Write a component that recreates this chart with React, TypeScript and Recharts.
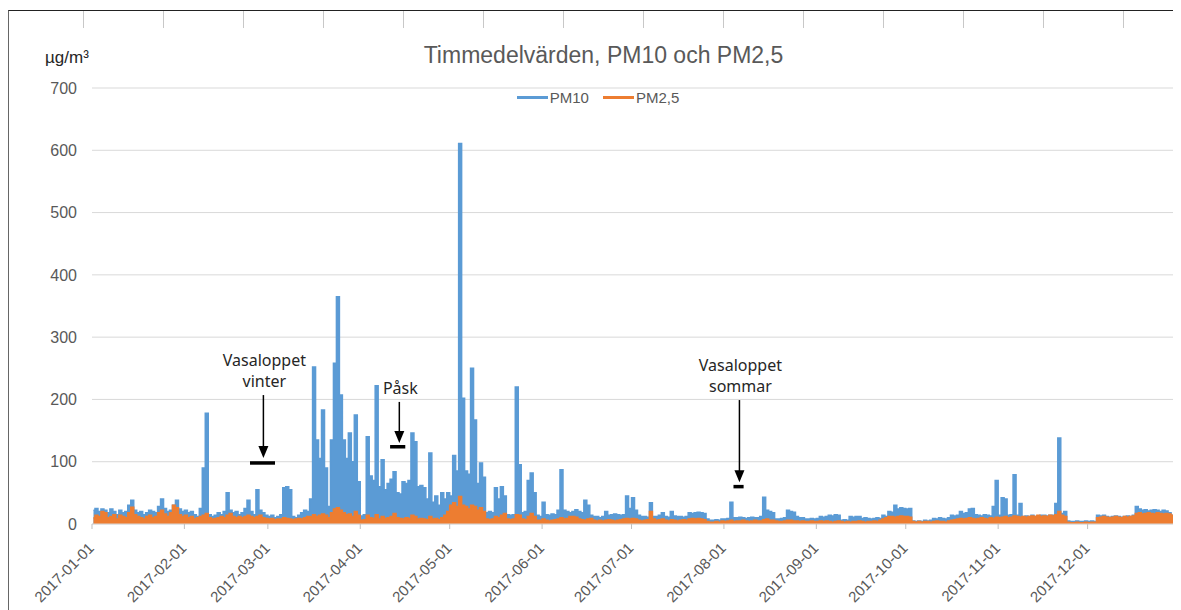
import React from 'react';
import { ComposedChart, Area, XAxis, YAxis, CartesianGrid, ReferenceLine } from 'recharts';

// day-of-year where each month starts, and the labels Excel printed
const monthTicks = [0, 31, 59, 90, 120, 151, 181, 212, 243, 273, 304, 334];
const monthLabels = [
  '2017-01-01', '2017-02-01', '2017-03-01', '2017-04-01', '2017-05-01', '2017-06-01',
  '2017-07-01', '2017-08-01', '2017-09-01', '2017-10-01', '2017-11-01', '2017-12-01',
];
const yTicks = [0, 100, 200, 300, 400, 500, 600, 700];

// PM10, one value per day, µg/m³
const pm10Jan = [22, 25, 20, 24, 22, 18, 24, 20, 15, 22, 18, 20, 30, 38, 22, 18, 20, 15, 18, 22, 20, 18, 28, 40, 25, 20, 22, 30, 38, 24, 20];
const pm10Feb = [22, 18, 20, 15, 12, 25, 90, 178, 15, 12, 14, 18, 15, 20, 50, 22, 18, 20, 15, 18, 25, 38, 20, 15, 55, 22, 18, 14];
const pm10Mar = [12, 14, 10, 12, 15, 58, 60, 55, 12, 10, 14, 18, 22, 20, 40, 252, 135, 105, 183, 90, 28, 135, 258, 365, 207, 135, 105, 146, 100, 175, 68];
const pm10Apr = [13, 15, 140, 77, 70, 222, 60, 103, 55, 65, 72, 84, 50, 48, 68, 65, 70, 146, 132, 60, 62, 58, 40, 114, 35, 45, 30, 50, 40, 50];
const pm10May = [45, 110, 85, 611, 202, 85, 80, 250, 167, 65, 98, 75, 18, 20, 18, 58, 40, 60, 45, 15, 14, 15, 220, 95, 18, 20, 70, 82, 50, 14, 12];
const pm10Jun = [35, 15, 14, 16, 15, 22, 87, 22, 20, 18, 20, 23, 20, 18, 38, 30, 14, 12, 12, 10, 12, 20, 14, 15, 16, 15, 14, 15, 45, 25];
const pm10Jul = [42, 22, 14, 12, 12, 11, 34, 12, 12, 14, 18, 12, 11, 20, 13, 12, 12, 11, 12, 18, 17, 18, 19, 18, 17, 8, 6, 6, 7, 6, 8];
const pm10Aug = [8, 9, 35, 10, 10, 11, 10, 9, 10, 11, 10, 10, 12, 43, 22, 20, 18, 8, 8, 9, 10, 22, 20, 19, 12, 10, 10, 8, 8, 9, 8];
const pm10Sep = [9, 12, 11, 12, 14, 13, 15, 14, 6, 7, 6, 12, 11, 12, 12, 9, 10, 9, 8, 9, 10, 9, 14, 12, 20, 19, 30, 24, 26, 25];
const pm10Oct = [24, 25, 5, 4, 5, 4, 6, 5, 6, 9, 8, 10, 9, 8, 10, 14, 13, 14, 20, 17, 18, 24, 25, 15, 14, 13, 15, 14, 13, 28, 70];
const pm10Nov = [14, 42, 40, 14, 15, 79, 14, 33, 12, 13, 12, 14, 12, 13, 14, 14, 13, 14, 14, 33, 138, 17, 20, 5, 4, 4, 5, 4, 4, 5];
const pm10Dec = [4, 5, 4, 14, 13, 14, 12, 11, 12, 13, 12, 11, 12, 13, 12, 14, 28, 24, 22, 23, 21, 22, 23, 22, 20, 22, 21, 18, 14, 12, 12];

// PM2,5, one value per day
const pm25Jan = [10, 14, 12, 20, 18, 10, 12, 15, 8, 14, 12, 10, 18, 27, 15, 12, 10, 8, 12, 14, 10, 12, 18, 22, 16, 12, 18, 30, 26, 15, 12];
const pm25Feb = [14, 10, 12, 8, 10, 12, 14, 17, 10, 8, 9, 10, 12, 10, 14, 17, 12, 10, 12, 10, 12, 14, 12, 10, 12, 14, 10, 9];
const pm25Mar = [8, 9, 7, 8, 8, 10, 9, 8, 7, 8, 9, 8, 10, 12, 12, 15, 12, 14, 16, 14, 10, 18, 24, 26, 22, 18, 15, 16, 12, 20, 14];
const pm25Apr = [6, 7, 14, 10, 9, 15, 8, 12, 9, 10, 12, 17, 10, 9, 8, 10, 9, 14, 12, 8, 9, 8, 7, 12, 8, 9, 7, 10, 14, 20];
const pm25May = [30, 34, 28, 44, 30, 28, 24, 30, 28, 22, 26, 20, 8, 7, 8, 12, 10, 14, 17, 8, 7, 8, 15, 14, 8, 7, 12, 17, 12, 6, 6];
const pm25Jun = [8, 6, 5, 6, 7, 8, 10, 8, 9, 12, 12, 11, 8, 7, 6, 8, 9, 6, 5, 6, 5, 6, 7, 6, 5, 6, 7, 8, 9, 8];
const pm25Jul = [9, 8, 6, 5, 6, 7, 20, 8, 6, 7, 8, 6, 5, 7, 6, 5, 6, 7, 6, 8, 9, 8, 9, 8, 7, 4, 3, 3, 4, 3, 5];
const pm25Aug = [4, 5, 6, 4, 5, 5, 6, 5, 4, 5, 6, 5, 5, 7, 8, 6, 6, 5, 4, 4, 5, 6, 6, 5, 5, 4, 5, 4, 4, 5, 4];
const pm25Sep = [4, 5, 4, 5, 4, 3, 4, 5, 4, 3, 4, 3, 4, 4, 5, 4, 3, 4, 4, 5, 4, 6, 8, 10, 12, 12, 11, 12, 13, 12];
const pm25Oct = [12, 11, 4, 3, 4, 3, 4, 4, 3, 4, 5, 4, 4, 3, 5, 6, 7, 8, 9, 8, 9, 10, 9, 8, 9, 10, 9, 8, 10, 9, 11];
const pm25Nov = [10, 11, 12, 10, 11, 13, 12, 11, 12, 11, 12, 13, 12, 14, 12, 13, 12, 14, 13, 15, 20, 14, 12, 3, 2, 2, 3, 2, 2, 3];
const pm25Dec = [2, 3, 3, 10, 11, 12, 11, 10, 11, 12, 11, 10, 12, 11, 12, 13, 17, 18, 16, 17, 18, 17, 16, 18, 17, 16, 17, 16, 14, 12, 12];

const pm10 = [
  ...pm10Jan, ...pm10Feb, ...pm10Mar, ...pm10Apr, ...pm10May, ...pm10Jun,
  ...pm10Jul, ...pm10Aug, ...pm10Sep, ...pm10Oct, ...pm10Nov, ...pm10Dec,
];
const pm25 = [
  ...pm25Jan, ...pm25Feb, ...pm25Mar, ...pm25Apr, ...pm25May, ...pm25Jun,
  ...pm25Jul, ...pm25Aug, ...pm25Sep, ...pm25Oct, ...pm25Nov, ...pm25Dec,
];

// event markers: arrow from `from` down to `to` at `day`, black bar from barFrom..barTo at `level`
const annotations = [
  { text: ['Vasaloppet', 'vinter'], day: 57.5, from: 207, to: 106, barFrom: 53, barTo: 61.4, level: 98 },
  { text: ['Påsk'], day: 103.1, from: 196, to: 130, barFrom: 100, barTo: 105.1, level: 124 },
  { text: ['Vasaloppet', 'sommar'], day: 217.2, from: 199, to: 67, barFrom: 215.2, barTo: 218.6, level: 60 },
];

const series = [
  { key: 'pm10', name: 'PM10', color: '#5b9bd5' },
  { key: 'pm25', name: 'PM2,5', color: '#ed7d31' },
];

const chartData = pm10.map((v, i) => ({ day: i + 0.5, pm10: v, pm25: pm25[i] }));

const FONT = '"Liberation Sans", Arial, sans-serif';
const GREY = '#595959';

const MonthTick = (props: any) => {
  const { x, y, payload } = props;
  const i = monthTicks.indexOf(payload.value);
  const ex = x + 3;
  const ey = y + 18;
  return (
    <text x={ex} y={ey} textAnchor="end" transform={`rotate(-45, ${ex}, ${ey})`}
      fill={GREY} fontSize={15} fontFamily={FONT}>
      {monthLabels[i]}
    </text>
  );
};

const arrowShape = (lines: string[]) => (props: any) => {
  const { x1, y1, x2, y2 } = props;
  return (
    <g>
      {lines.map((t, i) => (
        <text key={t} x={x1 + 1} y={y1 - 8 - (lines.length - 1 - i) * 21} textAnchor="middle"
          fill="#262626" fontSize={16} fontFamily='"Noto Sans", sans-serif'>
          {t}
        </text>
      ))}
      <line x1={x1} y1={y1} x2={x2} y2={y2 - 10} stroke="#000" strokeWidth={1.5} />
      <polygon points={`${x2 - 5},${y2 - 12} ${x2 + 5},${y2 - 12} ${x2},${y2}`} fill="#000" />
    </g>
  );
};

const sheetColumns = Array.from({ length: 14 }, (_, i) => 74 + i * 80);

export default function App() {
  return (
    <div style={{
      position: 'relative', width: 1173, height: 600, marginTop: 2,
      borderTop: '1.5px solid #222', borderLeft: '1px solid #666', background: '#fff',
    }}>
      <style>{'html,body{overflow:hidden}'}</style>
      {sheetColumns.map((x) => (
        <div key={x} style={{ position: 'absolute', left: x, top: 0, width: 1, height: 17, background: '#c8c8c8' }} />
      ))}
      <div style={{
        position: 'absolute', left: 0, top: 31, width: 1173, paddingLeft: 16, boxSizing: 'border-box',
        textAlign: 'center', fontFamily: FONT, fontSize: 23, color: GREY,
      }}>
        Timmedelvärden, PM10 och PM2,5
      </div>
      <div style={{ position: 'absolute', left: 36, top: 37, fontFamily: FONT, fontSize: 17, color: '#262626' }}>
        µg/m³
      </div>
      <div style={{
        position: 'absolute', left: 0, top: 76, width: 1173, paddingLeft: 19, boxSizing: 'border-box',
        display: 'flex', justifyContent: 'center', alignItems: 'center', height: 20,
        fontFamily: FONT, fontSize: 15, color: GREY, zIndex: 2,
      }}>
        {series.map((s) => (
          <span key={s.key} style={{ display: 'flex', alignItems: 'center', marginRight: 14 }}>
            <span style={{ display: 'inline-block', width: 31, height: 3, background: s.color, marginRight: 2 }} />
            {s.name}
          </span>
        ))}
      </div>
      <div style={{ position: 'absolute', left: 0, top: 0 }}>
        <ComposedChart width={1172} height={598} data={chartData}
          margin={{ top: 77, right: 1, bottom: 0, left: 0 }}>
          <CartesianGrid vertical={false} stroke="#d9d9d9" />
          <XAxis dataKey="day" type="number" domain={[0, 365]} ticks={monthTicks} interval={0}
            height={85} tick={<MonthTick />} tickSize={5} tickLine={{ stroke: '#bfbfbf' }}
            axisLine={{ stroke: '#d9d9d9' }} allowDataOverflow />
          <YAxis type="number" domain={[0, 700]} ticks={yTicks} width={83} axisLine={false}
            tickLine={false} tickMargin={9} tick={{ fill: GREY, fontSize: 16, fontFamily: FONT }} />
          {series.map((s) => (
            <Area key={s.key} type="step" dataKey={s.key} name={s.name} stroke={s.color} strokeWidth={1.5}
              fill={s.color} fillOpacity={1} dot={false} activeDot={false} isAnimationActive={false} />
          ))}
          {annotations.map((a) => (
            <ReferenceLine key={a.text.join('-') + '-arrow'} segment={[{ x: a.day, y: a.from }, { x: a.day, y: a.to }]}
              shape={arrowShape(a.text)} ifOverflow="visible" />
          ))}
          {annotations.map((a) => (
            <ReferenceLine key={a.text.join('-') + '-bar'} segment={[{ x: a.barFrom, y: a.level }, { x: a.barTo, y: a.level }]}
              stroke="#000" strokeWidth={3.5} ifOverflow="visible" />
          ))}
        </ComposedChart>
      </div>
    </div>
  );
}
